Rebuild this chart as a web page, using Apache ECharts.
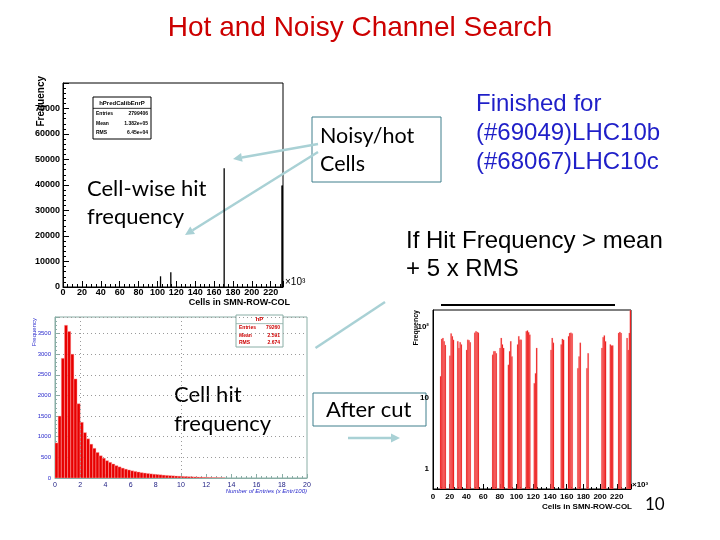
<!DOCTYPE html>
<html><head><meta charset="utf-8">
<script src="https://cdn.jsdelivr.net/npm/echarts@6/dist/echarts.min.js"></script>
<style>html,body{margin:0;padding:0;background:#fff}#c{width:720px;height:540px}</style>
</head><body><div id="c"></div>
<script>
// ---------- data ----------
const slideTitle = 'Hot and Noisy Channel Search';
// Panel A: cell-wise hit frequency (cells in units of 10^3)
const cellsA = [102.6, 113.5, 170.0, 231.2, 232.0];
const freqA  = [4200, 5800, 46600, 39800, 39800];
const statsA = ['hPredCalibEnrP', 'Entries', '2799406', 'Mean', '1.382e+05', 'RMS', '6.45e+04'];
// Panel B: cell hit frequency distribution (bin lower edges)
const binW_B = 0.25;
const edgesB = [0,0.25,0.5,0.75,1,1.25,1.5,1.75,2,2.25,2.5,2.75,3,3.25,3.5,3.75,4,4.25,4.5,4.75,
  5,5.25,5.5,5.75,6,6.25,6.5,6.75,7,7.25,7.5,7.75,8,8.25,8.5,8.75,9,9.25,9.5,9.75,
  10,10.25,10.5,10.75,11,11.25,11.5,11.75,12,12.25,12.5,12.75,13,13.25];
const freqB = [850,1500,2900,3700,3550,3000,2400,1800,1350,1100,950,820,720,620,540,480,420,380,340,300,
  270,240,215,195,175,160,145,130,120,110,100,92,85,78,70,64,58,53,48,44,
  40,36,32,29,26,23,21,18,16,14,12,10,8,6];
const statsB = ['hP', 'Entries', '79260', 'Mean', '2.591', 'RMS', '2.674'];
// Panel C: after cut (log scale)
const binW_C = 1.4;
const cellsC = [8.4,9.8,11.2,12.6,14.0, 19.6,21.0,22.4,23.8, 29.0,30.4,31.8,33.2, 39.6,41.0,42.4,43.8,
  49.4,50.8,52.2,53.6, 70.8,72.2,73.6,75.0, 79.6,81.0,82.4,83.8, 89.6,91.0,92.4,93.8,
  100.6,102.0,103.4,104.8, 111.0,112.4,113.8,115.2, 120.6,122.0,123.4, 140.6,142.0,143.4,
  152.8,154.2,155.6, 161.6,163.0,164.4,165.8, 172.8,174.2,175.6, 183.6,185.0,
  201.6,203.0,204.4,205.8, 211.6,213.0,214.4, 221.6,223.0,224.4, 231.6,233.0,234.4,235.6];
const freqC = [20,67,69,62,55, 39,80,73,65, 62,50,60,56, 47,65,64,60,
  82,86,84,82, 40,45,45,42, 50,69,56,50, 29,45,62,38,
  56,73,65,65, 86,88,83,77, 16,22,50, 47,69,59,
  56,67,65, 73,81,82,80, 26,38,59, 26,42,
  50,71,75,62, 56,54,54, 81,84,81, 69,47,81,170];
const axisTitleCells = 'Cells in SMN-ROW-COL';
const axisTitleFreq = 'Frequency';
const axisTitleEntries = 'Number of Entries (x Entr/100)';
const exp3 = '×10³';
const noteCellWise = ['Cell-wise hit', 'frequency'];
const noteCellHit = ['Cell hit', 'frequency'];
const noteNoisy = ['Noisy/hot', 'Cells'];
const noteFinished = ['Finished for', '(#69049)LHC10b', '(#68067)LHC10c'];
const noteRule = ['If Hit Frequency > mean', '+ 5 x RMS'];
const noteAfter = 'After cut';
const pageNo = '10';

// ---------- chart ----------
const chart = echarts.init(document.getElementById('c'), null, {renderer: 'canvas'});
const AR = 'Liberation Sans, Arial, sans-serif';
const CAL = 'Lato, Open Sans, sans-serif';

function zipPairs(a, b) { return a.map((v, i) => [v, b[i]]); }

function histItem(w, color, stroke, lw, minW) {
  return function (params, api) {
    const x0 = api.value(0), v = api.value(1);
    const top = api.coord([x0, v]);
    const right = api.coord([x0 + w, v]);
    const bottom = params.coordSys.y + params.coordSys.height;
    return {type: 'rect', shape: {x: top[0], y: top[1], width: Math.max(right[0] - top[0], minW), height: bottom - top[1]},
      style: {fill: color, stroke: stroke, lineWidth: lw}};
  };
}

function arrow(x1, y1, x2, y2, color, lw, head) {
  const a = Math.atan2(y2 - y1, x2 - x1);
  const hl = 9, hw = 4.5;
  const bx = x2 - hl * Math.cos(a), by = y2 - hl * Math.sin(a);
  const els = [{type: 'line', shape: {x1: x1, y1: y1, x2: bx, y2: by}, style: {stroke: color, lineWidth: lw}}];
  if (head) els.push({type: 'polygon', shape: {points: [[x2, y2],
    [bx + hw * Math.sin(a), by - hw * Math.cos(a)], [bx - hw * Math.sin(a), by + hw * Math.cos(a)]]},
    style: {fill: color}});
  return els;
}

function txt(x, y, s, font, fill, align, rot, vAlign) {
  return {type: 'text', x: x, y: y, rotation: rot || 0,
    style: {text: s, font: font, fill: fill, textAlign: align || 'left', textVerticalAlign: vAlign || 'middle'}};
}

function statsBox(x, y, w, h, st, border, color, titleColor) {
  const els = [
    {type: 'rect', shape: {x: x, y: y, width: w, height: h}, style: {fill: '#fff', stroke: border, lineWidth: 1}},
    {type: 'line', shape: {x1: x, y1: y + h * 0.27, x2: x + w, y2: y + h * 0.27}, style: {stroke: border, lineWidth: 0.8}},
    txt(x + w / 2, y + h * 0.14, st[0], 'bold 6px ' + AR, titleColor, 'center')
  ];
  for (let i = 0; i < 3; i++) {
    const yy = y + h * (0.40 + i * 0.23);
    els.push(txt(x + 3, yy, st[1 + 2 * i], 'bold 5px ' + AR, color, 'left'));
    els.push(txt(x + w - 3, yy, st[2 + 2 * i], 'bold 5px ' + AR, color, 'right'));
  }
  return els;
}

const tealArrow = '#a9d1d5';
const boxBorder = '#3f7f8c';
let graphics = [];
// stats boxes
graphics = graphics.concat(statsBox(93, 97, 58, 42, statsA, '#000', '#000', '#000'));
graphics = graphics.concat(statsBox(236, 315, 47, 32, statsB, '#8aaea6', '#cc0000', '#cc0000'));
// axis titles
graphics.push(txt(290, 303, axisTitleCells, 'bold 9px ' + AR, '#000', 'right'));
graphics.push(txt(285, 282, exp3, '10px ' + AR, '#000', 'left'));
graphics.push(txt(41, 76, axisTitleFreq, 'bold 10px ' + AR, '#000', 'right', Math.PI / 2));
graphics.push(txt(307, 491, axisTitleEntries, 'italic 6px ' + AR, '#2a2acc', 'right'));
graphics.push(txt(34, 318, axisTitleFreq, '6px ' + AR, '#2a2acc', 'right', Math.PI / 2));
graphics.push(txt(632, 507, axisTitleCells, 'bold 8px ' + AR, '#000', 'right'));
graphics.push(txt(632, 485, exp3, 'bold 8px ' + AR, '#000', 'left'));
graphics.push(txt(416, 310, axisTitleFreq, 'bold 7px ' + AR, '#000', 'right', Math.PI / 2));
// black bar above panel C
graphics.push({type: 'line', shape: {x1: 441, y1: 305, x2: 615, y2: 305}, style: {stroke: '#000', lineWidth: 2}});
// notes
graphics.push(txt(87, 189, noteCellWise[0], '22px ' + CAL, '#000'));
graphics.push(txt(87, 217, noteCellWise[1], '22px ' + CAL, '#000'));
graphics.push(txt(174, 395, noteCellHit[0], '22px ' + CAL, '#000'));
graphics.push(txt(174, 424, noteCellHit[1], '22px ' + CAL, '#000'));
graphics.push({type: 'rect', shape: {x: 312, y: 117, width: 129, height: 65}, style: {fill: '#fff', stroke: boxBorder, lineWidth: 1}});
graphics.push(txt(320, 136, noteNoisy[0], '21.5px ' + CAL, '#000'));
graphics.push(txt(320, 164, noteNoisy[1], '21.5px ' + CAL, '#000'));
graphics.push({type: 'rect', shape: {x: 313, y: 393, width: 113, height: 33}, style: {fill: '#fff', stroke: boxBorder, lineWidth: 1}});
graphics.push(txt(326, 410, noteAfter, '22px ' + CAL, '#000'));
for (let i = 0; i < 3; i++) graphics.push(txt(476, 104 + i * 29, noteFinished[i], '24px ' + AR, '#1f1fc8'));
graphics.push(txt(406, 241, noteRule[0], '24px ' + AR, '#000'));
graphics.push(txt(406, 269, noteRule[1], '24px ' + AR, '#000'));
graphics.push(txt(645, 505, pageNo, '17px ' + CAL, '#000'));
// arrows
graphics = graphics.concat(arrow(318, 144, 233, 159, tealArrow, 2.5, true));
graphics = graphics.concat(arrow(318, 152, 185, 235, tealArrow, 2.5, true));
graphics = graphics.concat(arrow(385, 302, 308, 353, tealArrow, 2.5, false));
graphics = graphics.concat(arrow(348, 438, 400, 438, tealArrow, 2.5, true));

const tickFont = {fontFamily: AR, fontWeight: 'bold', fontSize: 9, color: '#000'};
const option = {
  animation: false,
  backgroundColor: '#fff',
  title: {text: slideTitle, left: 'center', top: 9,
    textStyle: {fontFamily: AR, fontWeight: 'normal', fontSize: 28, color: '#cc0000'}},
  grid: [
    {left: 63, top: 83, width: 220, height: 204, show: true, borderColor: '#000', borderWidth: 1, containLabel: false, outerBoundsMode: 'none'},
    {left: 55, top: 317, width: 252, height: 161, show: true, borderColor: '#8aaea6', borderWidth: 1, containLabel: false, outerBoundsMode: 'none'},
    {left: 433, top: 310, width: 198, height: 179, show: true, borderColor: '#000', borderWidth: 1, containLabel: false, outerBoundsMode: 'none'}
  ],
  xAxis: [
    {gridIndex: 0, type: 'value', min: 0, max: 233, interval: 20,
      axisLine: {lineStyle: {color: '#000'}}, axisTick: {inside: true, length: 6, lineStyle: {color: '#000'}},
      minorTick: {show: true, splitNumber: 4, length: 3, lineStyle: {color: '#000'}},
      splitLine: {show: false}, axisLabel: Object.assign({margin: 1, showMaxLabel: false}, tickFont)},
    {gridIndex: 1, type: 'value', min: 0, max: 20, interval: 2,
      axisLine: {lineStyle: {color: '#8aaea6'}}, axisTick: {inside: true, length: 4, lineStyle: {color: '#8aaea6'}},
      minorTick: {show: true, splitNumber: 5, length: 2, lineStyle: {color: '#8aaea6'}},
      splitLine: {show: false}, axisLabel: {margin: 4, fontFamily: AR, fontSize: 7, color: '#1a1a80'}},
    {gridIndex: 2, type: 'value', min: 0, max: 237, interval: 20,
      axisLine: {lineStyle: {color: '#000'}}, axisTick: {inside: true, length: 5, lineStyle: {color: '#000'}},
      minorTick: {show: true, splitNumber: 4, length: 2, lineStyle: {color: '#000'}},
      splitLine: {show: false}, axisLabel: {margin: 4, fontFamily: AR, fontWeight: 'bold', fontSize: 8, color: '#000', showMaxLabel: false}}
  ],
  yAxis: [
    {gridIndex: 0, type: 'value', min: 0, max: 80000, interval: 10000,
      axisLine: {lineStyle: {color: '#000'}}, axisTick: {inside: true, length: 6, lineStyle: {color: '#000'}},
      minorTick: {show: true, splitNumber: 5, length: 3, lineStyle: {color: '#000'}},
      splitLine: {show: false},
      axisLabel: Object.assign({margin: 3, formatter: v => (v >= 80000 ? '' : String(v))}, tickFont)},
    {gridIndex: 1, type: 'value', min: 0, max: 3900, interval: 500,
      axisLine: {lineStyle: {color: '#8aaea6'}}, axisTick: {inside: true, length: 4, lineStyle: {color: '#8aaea6'}},
      minorTick: {show: true, splitNumber: 5, length: 2, lineStyle: {color: '#8aaea6'}},
      splitLine: {show: true, lineStyle: {color: '#9a9a9a', type: [1, 3], width: 1}},
      axisLabel: {margin: 4, fontFamily: AR, fontSize: 6, color: '#2a2acc', formatter: v => (v > 3500 ? '' : String(v))}},
    {gridIndex: 2, type: 'log', logBase: 10, min: 0.52, max: 171,
      axisLine: {lineStyle: {color: '#000'}}, axisTick: {show: false},
      splitLine: {show: false},
      axisLabel: {margin: 4, fontFamily: AR, fontWeight: 'bold', fontSize: 8, color: '#000',
        formatter: function (v) {
          const l = Math.log10(v);
          if (Math.abs(l - Math.round(l)) > 1e-6) return '';
          const e = Math.round(l);
          return e === 0 ? '1' : e === 1 ? '10' : e === 2 ? '10²' : '';
        }}}
  ],
  series: [
    {type: 'custom', xAxisIndex: 0, yAxisIndex: 0, clip: true, data: zipPairs(cellsA, freqA),
      renderItem: histItem(0.9, '#000', null, 0, 1.3)},
    {type: 'custom', xAxisIndex: 1, yAxisIndex: 1, clip: true, data: zipPairs(edgesB, freqB),
      renderItem: histItem(binW_B, '#e80000', '#ffb3b3', 0.4, 0.8),
      markLine: {silent: true, symbol: 'none', label: {show: false},
        lineStyle: {color: '#9a9a9a', type: [1, 3], width: 1}, data: [{xAxis: 2}, {xAxis: 10}]}},
    {type: 'custom', xAxisIndex: 2, yAxisIndex: 2, clip: true, data: zipPairs(cellsC, freqC),
      renderItem: histItem(binW_C, '#e80000', '#ff9a9a', 0.3, 0.8)}
  ],
  graphic: {elements: graphics}
};
chart.setOption(option);
</script>
</body></html>
